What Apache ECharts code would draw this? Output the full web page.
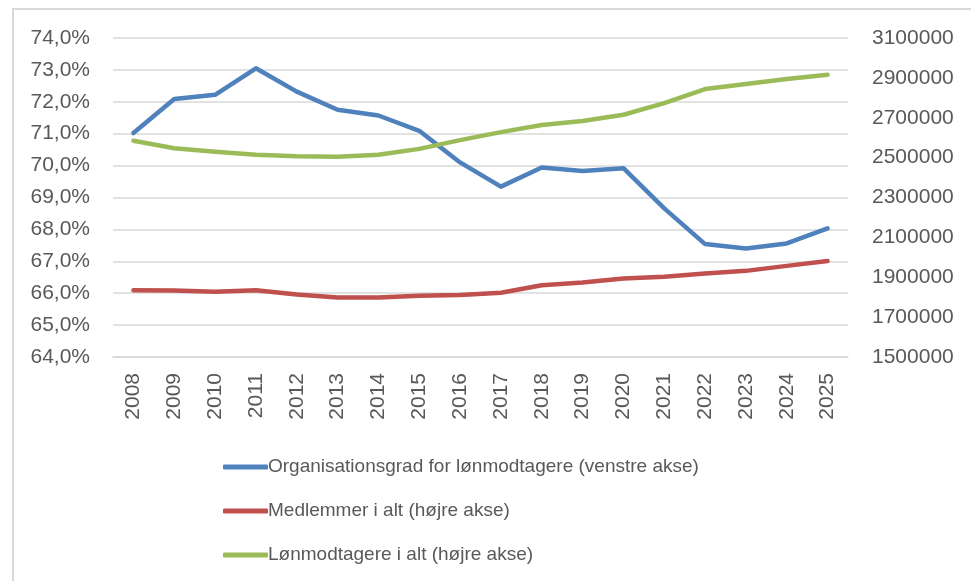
<!DOCTYPE html>
<html>
<head>
<meta charset="utf-8">
<script src="https://cdn.jsdelivr.net/npm/echarts@6/dist/echarts.min.js"></script>
<style>
  html, body { margin: 0; padding: 0; background: #fff; }
  #chart { width: 971px; height: 581px; }
</style>
</head>
<body>
<div id="chart"></div>
<script>
// years on the category axis
var years = ['2008','2009','2010','2011','2012','2013','2014','2015','2016',
             '2017','2018','2019','2020','2021','2022','2023','2024','2025'];

// Organisationsgrad (pct, left axis)
var orgGrad = [71.02, 72.09, 72.22, 73.05, 72.32, 71.75, 71.57, 71.09, 70.1,
               69.34, 69.94, 69.83, 69.92, 68.66, 67.54, 67.4, 67.56, 68.03];

// Medlemmer i alt (right axis)
var medlemmer = [1835000, 1834000, 1827000, 1835000, 1814000, 1798000, 1798000, 1807000, 1811000,
                 1822000, 1860000, 1874000, 1894000, 1902000, 1919000, 1932000, 1957000, 1982000];

// Lønmodtagere i alt (right axis)
var loenmodtagere = [2585000, 2547000, 2530000, 2514000, 2507000, 2505000, 2514000, 2544000, 2588000,
                     2628000, 2664000, 2684000, 2715000, 2773000, 2844000, 2869000, 2894000, 2916000];

var seriesNames = ['Organisationsgrad for lønmodtagere (venstre akse)',
                   'Medlemmer i alt (højre akse)',
                   'Lønmodtagere i alt (højre akse)'];

var FONT = '"Liberation Sans", Arial, sans-serif';
var TXT = '#595959';

var myChart = echarts.init(document.getElementById('chart'));

function lineSeries(name, data, color, axisIdx) {
    return {
        name: name,
        type: 'line',
        yAxisIndex: axisIdx,
        data: data,
        symbol: 'none',
        smooth: false,
        lineStyle: { color: color, width: 4.5, cap: 'round', join: 'round' },
        itemStyle: { color: color }
    };
}

var option = {
    animation: false,
    textStyle: { fontFamily: FONT },
    graphic: [{
        type: 'rect',
        shape: { x: 13, y: 9, width: 980, height: 600 },
        style: { fill: 'none', stroke: '#d9d9d9', lineWidth: 2 }
    }],
    grid: { left: 113, right: 123, top: 38, bottom: 224 },
    legend: {
        orient: 'vertical',
        left: 218,
        top: 452,
        itemWidth: 45,
        itemHeight: 5,
        itemGap: 24,
        icon: 'roundRect',
        textStyle: { color: TXT, fontSize: 19, fontFamily: FONT, lineHeight: 20, padding: [0, 0, 0, -5] },
        data: seriesNames
    },
    xAxis: {
        type: 'category',
        data: years,
        boundaryGap: true,
        axisLine: { show: true, lineStyle: { color: '#d9d9d9', width: 1.5 } },
        axisTick: { show: false },
        axisLabel: { rotate: 90, margin: 16, color: TXT, fontSize: 21, fontFamily: FONT }
    },
    yAxis: [{
        type: 'value',
        min: 64,
        max: 74,
        interval: 1,
        axisLine: { show: false },
        axisTick: { show: false },
        splitLine: { lineStyle: { color: '#d9d9d9', width: 1.5 } },
        axisLabel: {
            margin: 23, color: TXT, fontSize: 21, fontFamily: FONT,
            formatter: function (v) { return v.toFixed(1).replace('.', ',') + '%'; }
        }
    }, {
        type: 'value',
        min: 1500000,
        max: 3100000,
        interval: 200000,
        position: 'right',
        axisLine: { show: false },
        axisTick: { show: false },
        splitLine: { show: false },
        axisLabel: {
            margin: 24, color: TXT, fontSize: 21, fontFamily: FONT,
            formatter: function (v) { return String(v); }
        }
    }],
    series: [
        lineSeries(seriesNames[0], orgGrad, '#4f81bd', 0),
        lineSeries(seriesNames[1], medlemmer, '#c0504d', 1),
        lineSeries(seriesNames[2], loenmodtagere, '#9bbb59', 1)
    ]
};

myChart.setOption(option);
</script>
</body>
</html>
